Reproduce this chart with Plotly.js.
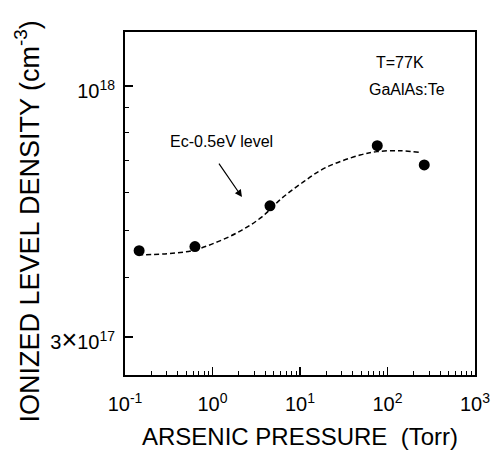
<!DOCTYPE html>
<html><head><meta charset="utf-8">
<script src="https://cdn.plot.ly/plotly-3.0.1.min.js"></script>
<style>html,body{margin:0;padding:0;background:#fff}#chart{width:500px;height:452px}</style>
</head><body><div id="chart"></div>
<script>
// Measured data points
const pressure = [0.145, 0.63, 4.54, 76.4, 263];
const density = [4.54e17, 4.63e17, 5.63e17, 7.51e17, 6.85e17];
// Dashed guide curve
const fitPressure = [0.141, 0.286, 0.583, 1.156, 2.17, 3.68, 6.22, 10.5, 19.3, 48.5, 75.9, 139, 235];
const fitDensity = [4.45e17, 4.47e17, 4.54e17, 4.74e17, 5.01e17, 5.34e17, 5.84e17, 6.28e17, 6.75e17, 7.18e17, 7.30e17, 7.33e17, 7.27e17];
// Tick labels
const xTickVals = [0.1, 1, 10, 100, 1000];
const xTickText = ['10<sup>-1</sup>', '10<sup>0</sup>', '10<sup>1</sup>', '10<sup>2</sup>', '10<sup>3</sup>'];
const yTickVals = [3e17, 1e18];
const yTickText = ['3<span style="font-size:27px">×</span>10<sup>17</sup>', '10<sup>18</sup>'];

const xMinor = [];
[0.1, 1, 10, 100].forEach(d => { for (let k = 2; k <= 9; k++) xMinor.push(d * k); });
const yMinor = [4e17, 5e17, 6e17, 7e17, 8e17, 9e17];

const font = 'Liberation Sans, Arial, Helvetica, sans-serif';

const traces = [
  {x: fitPressure, y: fitDensity, mode: 'lines', type: 'scatter',
   line: {color: '#000', width: 1.5, dash: '5px,3px', shape: 'spline', smoothing: 1},
   hoverinfo: 'skip', showlegend: false},
  {x: pressure, y: density, mode: 'markers', type: 'scatter',
   marker: {color: '#000', size: 11}, showlegend: false}
];

const axisCommon = {
  type: 'log', showgrid: false, zeroline: false, showline: true, linecolor: '#000', linewidth: 2,
  mirror: true, ticks: 'inside', ticklen: 8, tickwidth: 1.2, tickcolor: '#000',
  tickmode: 'array', tickfont: {family: font, size: 20, color: '#000'}
};

const layout = {
  width: 500, height: 452,
  margin: {l: 125, r: 25, t: 32, b: 77},
  paper_bgcolor: '#fff', plot_bgcolor: '#fff',
  font: {family: font, color: '#000'},
  xaxis: Object.assign({}, axisCommon, {
    range: [-1, 3], tickvals: xTickVals, ticktext: xTickText,
    ticklabelstandoff: 10,
    minor: {tickmode: 'array', tickvals: xMinor, ticks: 'inside', ticklen: 4, tickwidth: 1, tickcolor: '#000'},
    title: {text: 'ARSENIC PRESSURE  (Torr)', font: {family: font, size: 24, color: '#000'}, standoff: 14}
  }),
  yaxis: Object.assign({}, axisCommon, {
    range: [17.398, 18.1125], tickvals: yTickVals, ticktext: yTickText,
    ticklabelshift: 5, ticklabelstandoff: 4,
    minor: {tickmode: 'array', tickvals: yMinor, ticks: 'inside', ticklen: 4, tickwidth: 1, tickcolor: '#000'}
  }),
  annotations: [
    {xref: 'paper', yref: 'paper', x: -0.28, y: 0.4475, textangle: -90, showarrow: false,
     text: 'IONIZED LEVEL DENSITY (cm<sup>-3</sup>)', font: {family: font, size: 27, color: '#000'},
     xanchor: 'center', yanchor: 'middle'},
    {xref: 'paper', yref: 'paper', x: 0.786, y: 0.91, showarrow: false, text: 'T=77K',
     font: {family: font, size: 16, color: '#000'}, xanchor: 'center', yanchor: 'middle'},
    {xref: 'paper', yref: 'paper', x: 0.806, y: 0.831, showarrow: false, text: 'GaAlAs:Te',
     font: {family: font, size: 16, color: '#000'}, xanchor: 'center', yanchor: 'middle'},
    {xref: 'paper', yref: 'paper', x: 0.277, y: 0.682, showarrow: false, text: 'Ec-0.5eV level',
     font: {family: font, size: 16, color: '#000'}, xanchor: 'center', yanchor: 'middle'},
    {xref: 'x', yref: 'y', x: Math.log10(2.17), y: Math.log10(5.87e17), text: '', showarrow: true,
     arrowhead: 2, arrowsize: 1.2, arrowwidth: 1.2, arrowcolor: '#000', ax: -24, ay: -35, standoff: 0}
  ]
};

Plotly.newPlot('chart', traces, layout, {displayModeBar: false, staticPlot: true});
</script>
</body></html>
